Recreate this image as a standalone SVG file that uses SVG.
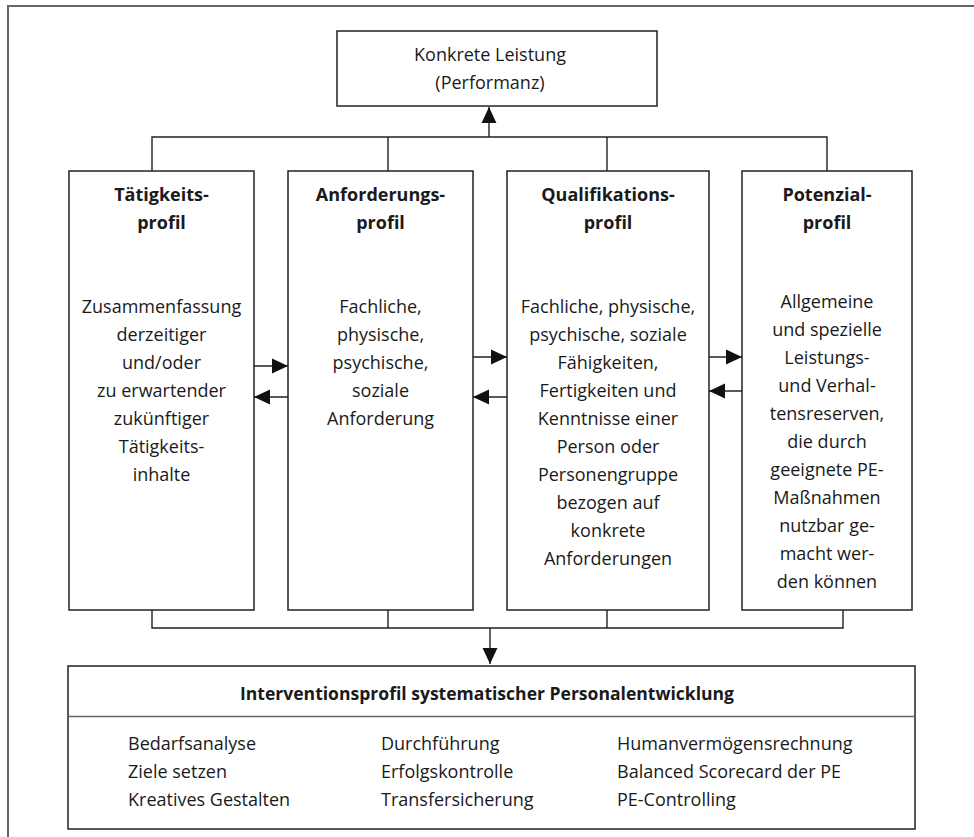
<svg xmlns="http://www.w3.org/2000/svg" width="974" height="837" viewBox="0 0 974 837">
<defs>
<style>
.box{fill:#fff;stroke:#222;stroke-width:1.5}
.frame{fill:#fff;stroke:#666;stroke-width:2}
.ln{fill:none;stroke:#222;stroke-width:1.4}
.div{stroke:#666;stroke-width:1.5}
text{font-family:"Open Sans","Noto Sans","Liberation Sans",sans-serif;font-size:18px;fill:#1a1a1a}
.c{text-anchor:middle}
.b{font-weight:bold}
</style>
<marker id="ah" markerUnits="userSpaceOnUse" markerWidth="16" markerHeight="16" viewBox="0 0 14 14" refX="14" refY="7" orient="auto">
<path d="M0,0.5 L14,7 L0,13.5 Z" fill="#111"/>
</marker>
</defs>
<rect class="frame" x="8" y="6" width="990" height="850"/>

<g id="connectors">
<line class="ln" x1="489" y1="137" x2="489" y2="107" marker-end="url(#ah)"/>
<polyline class="ln" points="152,171 152,137 827,137 827,171"/>
<line class="ln" x1="388" y1="137" x2="388" y2="171"/>
<line class="ln" x1="607" y1="137" x2="607" y2="171"/>
<polyline class="ln" points="152,610 152,628 843,628 843,610"/>
<line class="ln" x1="388" y1="610" x2="388" y2="628"/>
<line class="ln" x1="607" y1="610" x2="607" y2="628"/>
<line class="ln" x1="490" y1="628" x2="490" y2="664" marker-end="url(#ah)"/>
<line class="ln" x1="254" y1="366" x2="288" y2="366" marker-end="url(#ah)"/>
<line class="ln" x1="288" y1="397" x2="254" y2="397" marker-end="url(#ah)"/>
<line class="ln" x1="473" y1="357" x2="507" y2="357" marker-end="url(#ah)"/>
<line class="ln" x1="507" y1="397" x2="473" y2="397" marker-end="url(#ah)"/>
<line class="ln" x1="709" y1="357" x2="742" y2="357" marker-end="url(#ah)"/>
<line class="ln" x1="742" y1="391" x2="709" y2="391" marker-end="url(#ah)"/>
</g>

<g id="leistung">
<rect class="box" x="337" y="31" width="320" height="75"/>
<text class="c" x="490" y="61">Konkrete Leistung</text>
<text class="c" x="490" y="89">(Performanz)</text>
</g>

<g id="taetigkeitsprofil">
<rect class="box" x="69" y="171" width="185" height="439"/>
<text class="c b" x="161.5" y="201">Tätigkeits-</text>
<text class="c b" x="161.5" y="229">profil</text>
<text class="c" x="161.5" y="313">Zusammenfassung</text>
<text class="c" x="161.5" y="341">derzeitiger</text>
<text class="c" x="161.5" y="369">und/oder</text>
<text class="c" x="161.5" y="397">zu erwartender</text>
<text class="c" x="161.5" y="425">zukünftiger</text>
<text class="c" x="161.5" y="453">Tätigkeits-</text>
<text class="c" x="161.5" y="481">inhalte</text>
</g>

<g id="anforderungsprofil">
<rect class="box" x="288" y="171" width="185" height="439"/>
<text class="c b" x="380.5" y="201">Anforderungs-</text>
<text class="c b" x="380.5" y="229">profil</text>
<text class="c" x="380.5" y="313">Fachliche,</text>
<text class="c" x="380.5" y="341">physische,</text>
<text class="c" x="380.5" y="369">psychische,</text>
<text class="c" x="380.5" y="397">soziale</text>
<text class="c" x="380.5" y="425">Anforderung</text>
</g>

<g id="qualifikationsprofil">
<rect class="box" x="507" y="171" width="202" height="439"/>
<text class="c b" x="608" y="201">Qualifikations-</text>
<text class="c b" x="608" y="229">profil</text>
<text class="c" x="608" y="313">Fachliche, physische,</text>
<text class="c" x="608" y="341">psychische, soziale</text>
<text class="c" x="608" y="369">Fähigkeiten,</text>
<text class="c" x="608" y="397">Fertigkeiten und</text>
<text class="c" x="608" y="425">Kenntnisse einer</text>
<text class="c" x="608" y="453">Person oder</text>
<text class="c" x="608" y="481">Personengruppe</text>
<text class="c" x="608" y="509">bezogen auf</text>
<text class="c" x="608" y="537">konkrete</text>
<text class="c" x="608" y="565">Anforderungen</text>
</g>

<g id="potenzialprofil">
<rect class="box" x="742" y="171" width="170" height="439"/>
<text class="c b" x="827" y="201">Potenzial-</text>
<text class="c b" x="827" y="229">profil</text>
<text class="c" x="827" y="308">Allgemeine</text>
<text class="c" x="827" y="336">und spezielle</text>
<text class="c" x="827" y="364">Leistungs-</text>
<text class="c" x="827" y="392">und Verhal-</text>
<text class="c" x="827" y="420">tensreserven,</text>
<text class="c" x="827" y="448">die durch</text>
<text class="c" x="827" y="476">geeignete PE-</text>
<text class="c" x="827" y="504">Maßnahmen</text>
<text class="c" x="827" y="532">nutzbar ge-</text>
<text class="c" x="827" y="560">macht wer-</text>
<text class="c" x="827" y="588">den können</text>
</g>

<g id="interventionsprofil">
<rect class="box" x="68" y="666" width="847" height="163"/>
<line class="div" x1="68" y1="716.5" x2="915" y2="716.5"/>
<text class="c b" x="487" y="700" textLength="494" lengthAdjust="spacingAndGlyphs">Interventionsprofil systematischer Personalentwicklung</text>
<text x="128" y="750">Bedarfsanalyse</text>
<text x="128" y="778">Ziele setzen</text>
<text x="128" y="806">Kreatives Gestalten</text>
<text x="381" y="750">Durchführung</text>
<text x="381" y="778">Erfolgskontrolle</text>
<text x="381" y="806">Transfersicherung</text>
<text x="617" y="750">Humanvermögensrechnung</text>
<text x="617" y="778">Balanced Scorecard der PE</text>
<text x="617" y="806">PE-Controlling</text>
</g>
</svg>
